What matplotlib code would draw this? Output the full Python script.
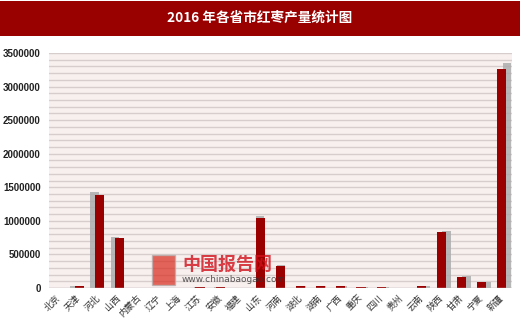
import matplotlib
matplotlib.use("Agg")
import matplotlib.pyplot as plt
import numpy as np
from matplotlib.patches import Rectangle

plt.rcParams['font.family'] = ['Noto Sans CJK SC', 'DejaVu Sans']

provinces = ["北京", "天津", "河北", "山西", "内蒙古", "辽宁", "上海", "江苏",
             "安徽", "福建", "山东", "河南", "湖北", "湖南", "广西", "重庆",
             "四川", "贵州", "云南", "陕西", "甘肃", "宁夏", "新疆"]
output_2016 = [5000, 35000, 1390000, 745000, 0, 0, 0, 8000,
               10000, 0, 1050000, 328000, 35000, 35000, 25000, 8000,
               12000, 0, 25000, 830000, 168000, 85000, 3260000]
y_ticks = [0, 500000, 1000000, 1500000, 2000000, 2500000, 3000000, 3500000]
title = "2016 年各省市红枣产量统计图"

BAR_RED = "#9b0000"
SHADOW = "#a9a9a9"

fig = plt.figure(figsize=(5.2, 3.18), dpi=100)
fig.patch.set_facecolor("white")

# title band
fig.patches.append(Rectangle((0, 1 - 36 / 318), 1, 35 / 318, transform=fig.transFigure,
                             facecolor="#990000", edgecolor="none", zorder=0))
fig.text(0.5, 1 - 18 / 318, title, color="white", fontsize=9.8, fontweight="bold",
         ha="center", va="center")

ax = fig.add_axes([49 / 520, 1 - 288 / 318, (512 - 49) / 520, (288 - 53) / 318])
ax.set_facecolor("#f8efef")

x = np.arange(len(provinces))
vals = np.array(output_2016, dtype=float)

# perspective shadow behind each bar
shift = np.clip((x - 10.5) * 0.03, -0.25, 0.25)
ax.bar(x + shift, vals * 1.027, width=0.42, color=SHADOW, alpha=0.8, zorder=2, linewidth=0)
ax.bar(x, vals, width=0.45, color=BAR_RED, zorder=3, linewidth=0)

ax.set_xlim(-0.5, len(provinces) - 0.5)
ax.set_ylim(0, 3500000)

ax.set_yticks(np.arange(0, 3500001, 100000), minor=True)
ax.set_yticks(y_ticks)
ax.set_yticklabels([str(v) for v in y_ticks], fontsize=7, fontweight="bold",
                   family="Liberation Sans", color="#222222")
ax.grid(axis="y", which="both", color="#d8cdcd", linewidth=1.0, zorder=1)
ax.set_axisbelow(True)
ax.tick_params(axis="y", which="both", length=0, pad=6)

ax.set_xticks(x)
ax.set_xticklabels(provinces, rotation=45, ha="right", va="center", rotation_mode="anchor",
                   fontsize=6.5, color="#333333")
ax.tick_params(axis="x", length=0, pad=6)

for s in ax.spines.values():
    s.set_visible(False)
ax.axhline(0, color="#c8c0c0", linewidth=1, zorder=4)

# watermark
fig.patches.append(Rectangle((152 / 520, 1 - 285 / 318), 23 / 520, 30 / 318,
                             transform=fig.transFigure, facecolor="#d8281a",
                             edgecolor="#b0b0b0", alpha=0.7, zorder=5))
fig.text(182 / 520, 1 - 264 / 318, "中国报告网", color="#d0101a", fontsize=13,
         fontweight="bold", ha="left", va="center", alpha=0.8, zorder=6)
fig.text(182 / 520, 1 - 280 / 318, "www.chinabaogao.com", color="#333333", fontsize=6.5,
         family="DejaVu Sans", ha="left", va="center", alpha=0.8, zorder=6)

fig.savefig("out.png", dpi=100, facecolor="white")
